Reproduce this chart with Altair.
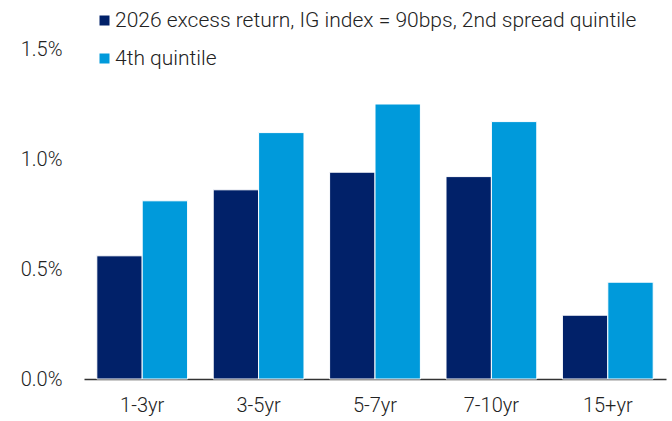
import altair as alt
import pandas as pd

# Maturity buckets and 2026 excess return estimates (%)
buckets = ["1-3yr", "3-5yr", "5-7yr", "7-10yr", "15+yr"]
second_quintile = [0.56, 0.86, 0.94, 0.92, 0.29]
fourth_quintile = [0.81, 1.12, 1.25, 1.17, 0.44]

series_names = [
    "2026 excess return, IG index = 90bps, 2nd spread quintile",
    "4th quintile",
]
series_colors = ["#012169", "#009ADB"]

rows = []
for b, v2, v4 in zip(buckets, second_quintile, fourth_quintile):
    rows.append({"bucket": b, "series": series_names[0], "value": v2})
    rows.append({"bucket": b, "series": series_names[1], "value": v4})
df = pd.DataFrame(rows)

FONT = "Roboto"

chart = (
    alt.Chart(df)
    .mark_bar(stroke="white", strokeWidth=1)
    .encode(
        x=alt.X(
            "bucket:N",
            sort=buckets,
            title=None,
            scale=alt.Scale(paddingInner=0.22, paddingOuter=0.11),
            axis=alt.Axis(
                labelAngle=0,
                ticks=False,
                domainColor="#333333",
                domainWidth=1.5,
                labelFontSize=20,
                labelFont=FONT,
                labelFontWeight=300,
                labelColor="#222222",
                labelPadding=16,
            ),
        ),
        xOffset=alt.XOffset("series:N", sort=series_names),
        y=alt.Y(
            "value:Q",
            title=None,
            scale=alt.Scale(domain=[0, 1.5]),
            axis=alt.Axis(
                values=[0, 0.5, 1.0, 1.5],
                labelExpr="format(datum.value, '.1f') + '%'",
                grid=False,
                domain=False,
                ticks=False,
                labelFontSize=20,
                labelFont=FONT,
                labelFontWeight=300,
                labelColor="#222222",
                labelPadding=22,
            ),
        ),
        color=alt.Color(
            "series:N",
            sort=series_names,
            scale=alt.Scale(domain=series_names, range=series_colors),
            legend=alt.Legend(
                title=None,
                orient="none",
                legendX=10,
                legendY=-39,
                symbolType="square",
                symbolSize=100,
                symbolStrokeWidth=0,
                labelFontSize=21,
                labelFont=FONT,
                labelFontWeight=300,
                labelColor="#222222",
                labelLimit=700,
                rowPadding=16,
                padding=0,
                labelOffset=0,
            ),
        ),
    )
    .properties(
        width=582,
        height=330,
        autosize=alt.AutoSizeParams(type="none"),
        padding={"left": 84, "top": 49, "right": 6, "bottom": 42},
    )
    .configure_view(stroke=None)
)

chart.save("out.html", embed_options={"renderer": "svg", "actions": False})
